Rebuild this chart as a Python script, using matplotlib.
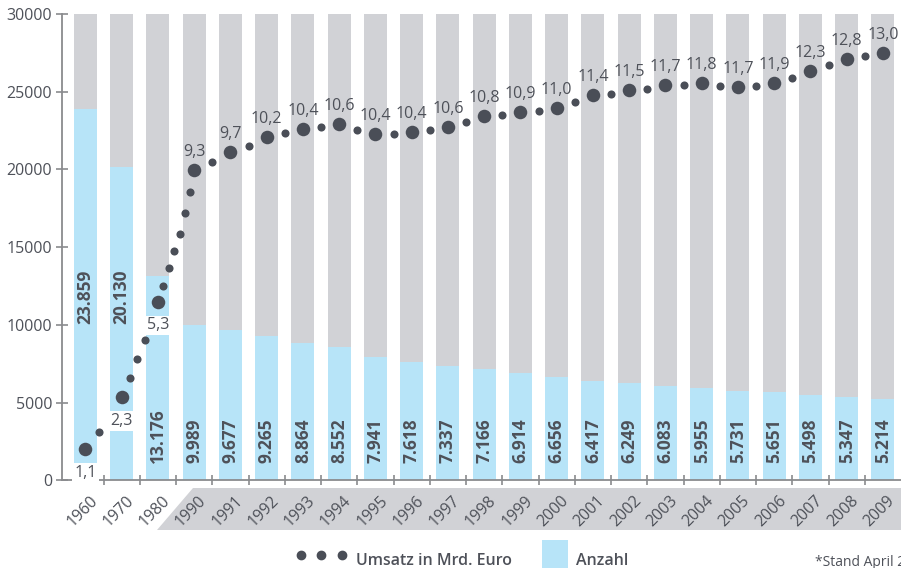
import matplotlib
matplotlib.use("Agg")
import matplotlib.pyplot as plt
from matplotlib.patches import Polygon, Rectangle
from matplotlib.lines import Line2D
from matplotlib.transforms import ScaledTranslation

plt.rcParams["font.family"] = ["Open Sans", "DejaVu Sans"]

# ---------------- data ----------------
years = ["1960", "1970", "1980"] + [str(y) for y in range(1990, 2010)]
anzahl = [23859, 20130, 13176, 9989, 9677, 9265, 8864, 8552, 7941, 7618, 7337,
          7166, 6914, 6656, 6417, 6249, 6083, 5955, 5731, 5651, 5498, 5347, 5214]
umsatz = [1.1, 2.3, 5.3, 9.3, 9.7, 10.2, 10.4, 10.6, 10.4, 10.4, 10.6, 10.8,
          10.9, 11.0, 11.4, 11.5, 11.7, 11.8, 11.7, 11.9, 12.3, 12.8, 13.0]
# height at which each Umsatz dot is drawn on the 0-30000 axis
umsatz_dot_y = [2015, 5343, 11479, 19977, 21117, 22057, 22617, 22938, 22250,
                22424, 22700, 23409, 23692, 23924, 24761, 25108, 25404, 25533,
                25321, 25559, 26351, 27123, 27490]
# small connecting dots (position in bar units, height)
small_dot_x = [0.36, 1.22, 1.42, 1.63, 2.15, 2.30, 2.45, 2.62, 2.75, 2.89,
               3.5, 4.5, 5.5, 6.5, 7.5, 8.5, 9.5, 10.5, 11.5, 12.5, 13.5,
               14.5, 15.5, 16.5, 17.5, 18.5, 19.5, 20.5, 21.5]
small_dot_y = [3130, 6567, 7790, 9032, 12528, 13687, 14782, 15838, 17190, 18580,
               20492, 21523, 22314, 22726, 22530, 22295, 22507, 23048, 23518,
               23776, 24310, 24870, 25192, 25430, 25385, 25385, 25900, 26718, 27316]
y_max = 30000
y_ticks = [0, 5000, 10000, 15000, 20000, 25000, 30000]

# ---------------- style ----------------
GREY_BAR = "#d1d2d6"
BLUE = "#b7e4f8"
DOT = "#4a4e57"
TEXT = "#4e5159"
AXIS = "#8a8b8e"

W, H = 901, 568
fig = plt.figure(figsize=(W / 100, H / 100), dpi=100)
ax = fig.add_axes([62 / W, 87.7 / H, 839 / W, 466.3 / H])

n = len(years)
x = list(range(n))
bw = 0.634

ax.bar(x, [y_max] * n, width=bw, color=GREY_BAR, zorder=1)
ax.bar(x, anzahl, width=bw, color=BLUE, zorder=2)

ax.scatter(small_dot_x, small_dot_y, s=34, color=DOT, zorder=5, linewidths=0)
ax.scatter(x, umsatz_dot_y, s=95, color=DOT, zorder=6, linewidths=0)

# Umsatz labels
for i, (v, yy) in enumerate(zip(umsatz, umsatz_dot_y)):
    lab = f"{v:.1f}".replace(".", ",")
    if i < 3:
        ax.annotate(lab, (i, yy), xytext=(0, -17), textcoords="offset points",
                    ha="center", va="center", fontsize=11.5, color=TEXT, zorder=7,
                    bbox=dict(boxstyle="square,pad=0.12", fc="white", ec="none"))
    else:
        ax.annotate(lab, (i, yy), xytext=(0, 13), textcoords="offset points",
                    ha="center", va="center", fontsize=11.5, color=TEXT, zorder=7)

# Anzahl labels
for i, v in enumerate(anzahl):
    lab = f"{v:,}".replace(",", ".")
    if i < 2:
        ax.text(i, 11800, lab, rotation=90, ha="center", va="center",
                fontsize=12.5, fontweight="bold", color=TEXT, zorder=4)
    else:
        ax.text(i, 1100, lab, rotation=90, ha="center", va="bottom",
                fontsize=12.5, fontweight="bold", color=TEXT, zorder=4)

ax.set_xlim(-0.648, 22.497)
ax.set_ylim(0, y_max)

for s in ["top", "right"]:
    ax.spines[s].set_visible(False)
for s in ["left", "bottom"]:
    ax.spines[s].set_color(AXIS)
    ax.spines[s].set_linewidth(1.3)

ax.set_yticks(y_ticks)
ax.set_yticklabels([str(t) for t in y_ticks])
ax.tick_params(axis="y", direction="inout", length=8, width=1.2, color=AXIS,
               labelsize=11.5, labelcolor=TEXT, pad=3)

ax.set_xticks(x)
ax.set_xticklabels(years)
ax.set_xticks([i + 0.5 for i in range(n - 1)], minor=True)
ax.tick_params(axis="x", which="major", length=0, pad=9, labelsize=11.5,
               labelcolor=TEXT)
ax.tick_params(axis="x", which="minor", direction="inout", length=6.5,
               width=1.2, color=AXIS)
shift = ScaledTranslation(4 / 100, 0, fig.dpi_scale_trans)
for lbl in ax.get_xticklabels():
    lbl.set_rotation(45)
    lbl.set_ha("right")
    lbl.set_rotation_mode("anchor")
    lbl.set_zorder(10)
    lbl.set_transform(lbl.get_transform() + shift)

# grey band behind the yearly labels
trans = ax.get_xaxis_transform()
band = Polygon([(2.966, -0.0165), (23.5, -0.0165), (23.5, -0.1066), (1.972, -0.1066)],
               closed=True, transform=trans, facecolor=GREY_BAR, edgecolor="none",
               clip_on=False, zorder=0)
ax.add_patch(band)

# legend
for px in (300.7, 321.0, 341.7):
    fig.add_artist(Line2D([px / W], [13 / H], marker="o", markersize=6,
                          color=DOT, linestyle="none", transform=fig.transFigure))
fig.text(356 / W, 3 / H, "Umsatz in Mrd. Euro", fontsize=11.5,
         fontweight="semibold", color=TEXT, va="baseline", ha="left")
fig.add_artist(Rectangle((541.7 / W, 0), 26.6 / W, 28 / H, transform=fig.transFigure,
                         facecolor=BLUE, edgecolor="none"))
fig.text(576 / W, 3 / H, "Anzahl", fontsize=11.5, fontweight="semibold",
         color=TEXT, va="baseline", ha="left")
fig.text(815 / W, 2 / H, "*Stand April 2009", fontsize=10, color=TEXT,
         va="baseline", ha="left")

fig.savefig("out.png", dpi=100)
